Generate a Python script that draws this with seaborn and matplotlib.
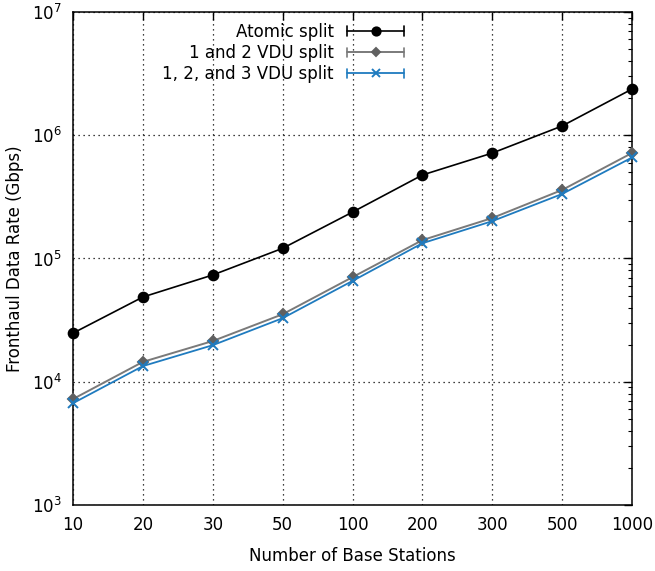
import numpy as np
import pandas as pd
import matplotlib
matplotlib.use("Agg")
import matplotlib.pyplot as plt
import seaborn as sns
from matplotlib.lines import Line2D
from matplotlib.legend_handler import HandlerBase
from matplotlib.ticker import LogLocator, NullFormatter

# number of base stations (categorical, equally spaced on the plot)
stations = ["10", "20", "30", "50", "100", "200", "300", "500", "1000"]

# fronthaul data rate in Gbps
atomic = [24800, 48700, 73500, 121000, 238000, 476000, 717000, 1190000, 2370000]
vdu_12 = [7240, 14500, 21400, 35300, 70600, 141000, 213000, 360000, 718000]
vdu_123 = [6700, 13400, 19800, 32800, 65800, 133000, 201000, 334000, 660000]

series = [
    ("Atomic split", atomic, "black", "o", 7, 1.2),
    ("1 and 2 VDU split", vdu_12, "#7a7a7a", "D", 5, 1.4),
    ("1, 2, and 3 VDU split", vdu_123, "#1f7bbf", "x", 7, 1.3),
]


class CapLineHandler(HandlerBase):
    """gnuplot style key sample: |----o----|"""

    def create_artists(self, legend, orig_handle, xdescent, ydescent,
                       width, height, fontsize, trans):
        y = height / 2 - ydescent
        color = orig_handle.get_color()
        lw = orig_handle.get_linewidth()
        cap = height * 0.4
        arts = [
            Line2D([-xdescent, width - xdescent], [y, y], color=color, linewidth=lw),
            Line2D([-xdescent, -xdescent], [y - cap, y + cap], color=color, linewidth=1.2),
            Line2D([width - xdescent, width - xdescent], [y - cap, y + cap], color=color, linewidth=1.2),
            Line2D([width / 2 - xdescent], [y], linestyle="none",
                   marker=orig_handle.get_marker(),
                   markersize=orig_handle.get_markersize() * 0.85,
                   markerfacecolor=orig_handle.get_markerfacecolor(),
                   markeredgecolor=orig_handle.get_markeredgecolor(),
                   markeredgewidth=orig_handle.get_markeredgewidth()),
        ]
        for a in arts:
            a.set_transform(trans)
        return arts


sns.set_theme(style="white", rc={"text.color": "black", "axes.labelcolor": "black",
                                 "xtick.color": "black", "ytick.color": "black"})
plt.rcParams["font.family"] = ["DejaVu Sans"]

fig = plt.figure(figsize=(6.55, 5.71), dpi=100)
ax = fig.add_axes([0.1115, 0.1156, 0.8535, 0.8634])

pos = np.arange(len(stations))
handles = []
for label, values, color, marker, ms, lw in series:
    df = pd.DataFrame({"pos": pos, "rate": values})
    mcolor = "#606060" if marker == "D" else color
    sns.lineplot(data=df, x="pos", y="rate", ax=ax, color=color, linewidth=lw,
                 marker=marker, markersize=ms, markerfacecolor=mcolor,
                 markeredgecolor=mcolor, markeredgewidth=1.4, clip_on=False, zorder=3)
    handles.append(Line2D([], [], color=color, linewidth=lw, marker=marker,
                          markersize=ms, markerfacecolor=mcolor,
                          markeredgecolor=mcolor, markeredgewidth=1.4, label=label))

ax.set_yscale("log")
ax.set_ylim(1e3, 1e7)
ax.set_xlim(0, len(stations) - 1)
ax.set_xticks(pos)
ax.set_xticklabels(stations)
ax.yaxis.set_major_locator(LogLocator(base=10, numticks=10))
ax.yaxis.set_minor_locator(LogLocator(base=10, subs=np.arange(2, 10), numticks=20))
ax.yaxis.set_minor_formatter(NullFormatter())

ax.grid(True, which="major", color="black", linestyle=(0, (1, 3)), linewidth=0.9)
ax.tick_params(which="both", direction="in", top=True, right=True, color="black")
ax.tick_params(which="major", length=6, width=1, labelsize=12, pad=8)
ax.tick_params(which="minor", length=3, width=0.8)
for s in ax.spines.values():
    s.set_color("black")
    s.set_linewidth(1.1)

ax.set_xlabel("Number of Base Stations", fontsize=12, labelpad=9)
ax.set_ylabel("Fronthaul Data Rate (Gbps)", fontsize=12, labelpad=6)

ax.legend(handles=handles, handler_map={Line2D: CapLineHandler()},
          loc="upper left", bbox_to_anchor=(0.136, 1.005),
          markerfirst=False, frameon=False, fontsize=12, handlelength=3.4,
          handletextpad=0.8, labelspacing=0.19, borderpad=0.3)

fig.savefig("out.png", dpi=100)
